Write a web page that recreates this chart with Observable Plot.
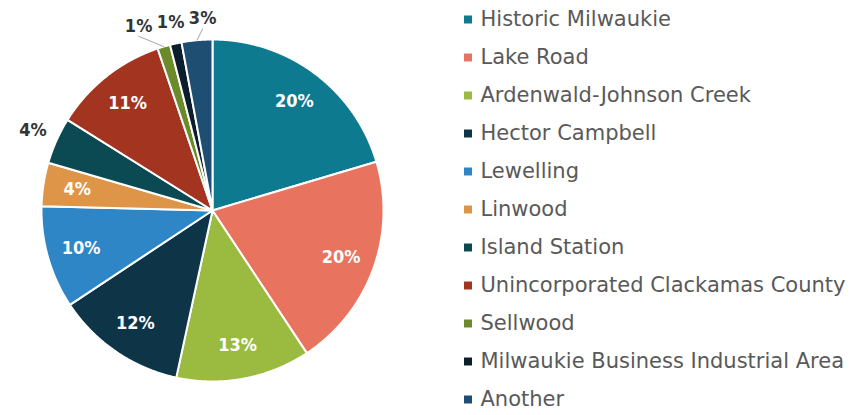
<!DOCTYPE html>
<html><head><meta charset="utf-8">
<script src="https://cdn.jsdelivr.net/npm/d3@7"></script>
<script src="https://cdn.jsdelivr.net/npm/@observablehq/plot@0.6"></script>
<style>
body{margin:0;background:#fff;}
#wrap{position:relative;width:855px;height:415px;overflow:hidden;font-family:"DejaVu Sans",sans-serif;}
#pie{position:absolute;left:0;top:0;}
#legend{position:absolute;left:460px;top:0;}
</style></head><body><div id="wrap"><div id="pie"></div><div id="legend"></div></div>
<script>
// Data
const categories = ["Historic Milwaukie","Lake Road","Ardenwald-Johnson Creek","Hector Campbell","Lewelling","Linwood","Island Station","Unincorporated Clackamas County","Sellwood","Milwaukie Business Industrial Area","Another"];
const values = [20.4, 20.3, 12.7, 12.3, 9.7, 4.1, 4.4, 10.9, 1.2, 1.1, 2.9];
const colors = ["#0E7A90","#E8735E","#9BBB40","#0D3447","#2F86C6","#DF9548","#0B4A52","#A33520","#6B8B2A","#0B1E2B","#1E4F73"];
const outsideLabels = ["Island Station","Sellwood","Milwaukie Business Industrial Area","Another"];
const leaderLabels = ["Sellwood","Another"];

const total = d3.sum(values);
const arcs = d3.pie().sort(null).value(d => d)(values);
const fmt = v => Math.round(v / total * 100) + "%";

// slice polygons in unit coordinates
const pts = [];
arcs.forEach((a, i) => {
  const name = categories[i];
  pts.push({name, x: 0, y: 0});
  const n = Math.max(2, Math.ceil((a.endAngle - a.startAngle) / 0.005));
  for (let k = 0; k <= n; k++) {
    const t = a.startAngle + (a.endAngle - a.startAngle) * k / n;
    pts.push({name, x: Math.sin(t), y: Math.cos(t)});
  }
});

const R = 171, cx = 212, cy = 210;
const inside = [], outside = [];
arcs.forEach((a, i) => {
  const mid = (a.startAngle + a.endAngle) / 2;
  const name = categories[i];
  if (outsideLabels.includes(name)) {
    outside.push({name, mid, label: fmt(values[i]), r: 1.15});
  } else {
    inside.push({name, x: 0.8 * Math.sin(mid), y: 0.8 * Math.cos(mid), label: fmt(values[i])});
  }
});
// simple collision avoidance for outside labels (in pixels), going counter-clockwise from the top
outside.forEach(o => { o.px = o.r * R * Math.sin(o.mid); o.py = o.r * R * Math.cos(o.mid); });
const topGroup = outside.filter(o => o.py > 0.8 * R).sort((a, b) => b.mid - a.mid);
topGroup.forEach(o => { o.px += 8; o.py -= 4; });
for (let k = 1; k < topGroup.length; k++) {
  if (topGroup[k - 1].px - topGroup[k].px < 32) topGroup[k].px = topGroup[k - 1].px - 32;
}
outside.forEach(o => { o.x = o.px / R; o.y = o.py / R; });
const leaders = [];
outside.filter(o => leaderLabels.includes(o.name)).forEach(o => {
  leaders.push({name: o.name, x: Math.sin(o.mid), y: Math.cos(o.mid)});
  leaders.push({name: o.name, x: o.x, y: o.y - 0.06});
});

const pieChart = Plot.plot({
  width: 440, height: 415, margin: 0,
  x: {domain: [-1, 1], range: [cx - R, cx + R], axis: null},
  y: {domain: [-1, 1], range: [cy + R, cy - R], axis: null},
  color: {domain: categories, range: colors},
  style: {fontFamily: '"DejaVu Sans Condensed","DejaVu Sans",sans-serif'},
  marks: [
    Plot.line(pts, {x: "x", y: "y", z: "name", fill: "name", stroke: "white", strokeWidth: 2, strokeLinejoin: "round", curve: "linear-closed"}),
    Plot.line(leaders, {x: "x", y: "y", z: "name", stroke: "#a6a6a6", strokeWidth: 1}),
    Plot.text(inside, {x: "x", y: "y", text: "label", fill: "white", fontSize: 18, fontWeight: "bold"}),
    Plot.text(outside, {x: "x", y: "y", text: "label", fill: "#333333", fontSize: 18, fontWeight: "bold"})
  ]
});
document.getElementById("pie").appendChild(pieChart);

const legendChart = Plot.plot({
  width: 395, height: 415, margin: 0,
  y: {domain: categories, type: "point", padding: 0, range: [17, 401], axis: null},
  color: {domain: categories, range: colors},
  style: {fontFamily: '"DejaVu Sans",sans-serif'},
  marks: [
    Plot.dot(categories, {y: d => d, frameAnchor: "left", dx: 7.5, symbol: "square", r: 4.5, fill: d => d}),
    Plot.text(categories, {y: d => d, frameAnchor: "left", dx: 20, textAnchor: "start", text: d => d, fill: "#595959", fontSize: 21})
  ]
});
document.getElementById("legend").appendChild(legendChart);
</script>
</body></html>
